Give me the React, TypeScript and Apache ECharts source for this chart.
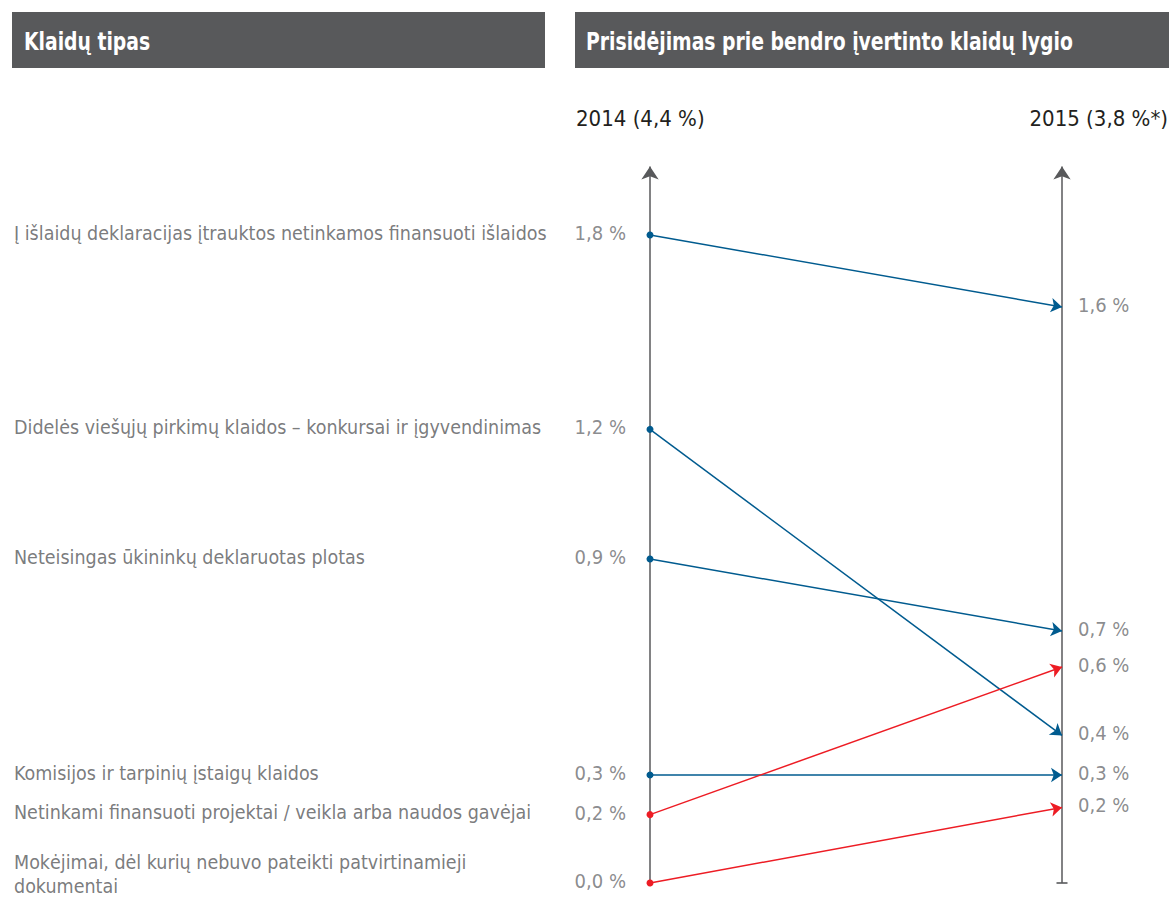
import React, { useEffect, useRef } from "react";
import * as echarts from "echarts";

const categories = [
  "Į išlaidų deklaracijas įtrauktos netinkamos finansuoti išlaidos",
  "Didelės viešųjų pirkimų klaidos – konkursai ir įgyvendinimas",
  "Neteisingas ūkininkų deklaruotas plotas",
  "Komisijos ir tarpinių įstaigų klaidos",
  "Netinkami finansuoti projektai / veikla arba naudos gavėjai",
  "Mokėjimai, dėl kurių nebuvo pateikti patvirtinamieji\ndokumentai",
];
const values2014 = [1.8, 1.26, 0.9, 0.3, 0.19, 0.0];
const values2015 = [1.6, 0.41, 0.7, 0.3, 0.6, 0.21];
const labels2014 = ["1,8 %", "1,2 %", "0,9 %", "0,3 %", "0,2 %", "0,0 %"];
const labels2015 = ["1,6 %", "0,4 %", "0,7 %", "0,3 %", "0,6 %", "0,2 %"];
const headerLeft = "Klaidų tipas";
const headerRight = "Prisidėjimas prie bendro įvertinto klaidų lygio";
const year2014 = "2014 (4,4 %)";
const year2015 = "2015 (3,8 %*)";

const BLUE = "#005b8f";
const RED = "#ed1c24";
const GRAY = "#58595b";
const FONT = "'DejaVu Sans Condensed', 'Liberation Sans Narrow', 'Noto Sans', sans-serif";

export default function App() {
  const ref = useRef<HTMLDivElement>(null);
  useEffect(() => {
    document.body.style.margin = "0";
    const chart = echarts.init(ref.current!, null, { renderer: "svg" });
    const linesData = values2014.map((v, i) => ({
      coords: [
        [0, v],
        [1, values2015[i]],
      ],
      lineStyle: { color: values2015[i] > v ? RED : BLUE },
    }));
    chart.setOption({
      animation: false,
      textStyle: { fontFamily: FONT },
      grid: { left: 650, right: 107, top: 163, bottom: 17 },
      xAxis: { type: "value", min: 0, max: 1, show: false },
      yAxis: { type: "value", min: 0, max: 2, show: false },
      graphic: [
        { type: "rect", shape: { x: 12, y: 12, width: 533, height: 56 }, style: { fill: GRAY } },
        { type: "rect", shape: { x: 575, y: 12, width: 594, height: 56 }, style: { fill: GRAY } },
        {
          type: "text", x: 24, y: 41, scaleX: 0.87,
          style: { text: headerLeft, fill: "#fff", font: `bold 24px ${FONT}`, verticalAlign: "middle" },
        },
        {
          type: "text", x: 586, y: 41, scaleX: 0.87,
          style: { text: headerRight, fill: "#fff", font: `bold 24px ${FONT}`, verticalAlign: "middle" },
        },
        {
          type: "text", x: 576, y: 118,
          style: { text: year2014, fill: "#231f20", font: `22px ${FONT}`, verticalAlign: "middle" },
        },
        {
          type: "text", x: 1168, y: 118,
          style: { text: year2015, fill: "#231f20", font: `22px ${FONT}`, verticalAlign: "middle", align: "right" },
        },
      ],
      series: [
        {
          type: "lines",
          coordinateSystem: "cartesian2d",
          clip: false,
          symbol: ["none", "arrow"],
          symbolSize: 13,
          lineStyle: { color: GRAY, width: 1.5, opacity: 1 },
          data: [
            { coords: [[0, 0], [0, 1.99]] },
            { coords: [[1, 0], [1, 1.99]] },
          ],
          z: 1,
        },
        {
          type: "scatter",
          clip: false,
          symbol: "rect",
          symbolSize: [11, 2],
          itemStyle: { color: GRAY },
          data: [[1, 0]],
          z: 1,
        },
        {
          type: "lines",
          coordinateSystem: "cartesian2d",
          clip: false,
          symbol: ["circle", "arrow"],
          symbolSize: [7, 11],
          lineStyle: { width: 1.5, opacity: 1 },
          data: linesData,
          z: 3,
        },
        {
          type: "scatter",
          clip: false,
          symbolSize: 0,
          data: values2014.map((v, i) => ({
            value: [0, v],
            label: {
              show: true,
              formatter: labels2014[i],
              position: "left",
              distance: 24,
              color: "#6d6e71",
              fontSize: 20,
              fontFamily: FONT,
              offset: [0, -2],
            },
          })),
          z: 4,
        },
        {
          type: "scatter",
          clip: false,
          symbolSize: 0,
          data: values2015.map((v, i) => ({
            value: [1, v],
            label: {
              show: true,
              formatter: labels2015[i],
              position: "right",
              distance: 16,
              color: "#6d6e71",
              fontSize: 20,
              fontFamily: FONT,
              offset: [0, -2],
            },
          })),
          z: 4,
        },
        {
          type: "scatter",
          clip: false,
          symbolSize: 0,
          data: values2014.map((v, i) => ({
            value: [0, v],
            label: {
              show: true,
              formatter: categories[i],
              position: [-636, 0],
              align: "left",
              verticalAlign: "middle",
              color: GRAY,
              fontSize: 19.5,
              lineHeight: 24,
              fontFamily: FONT,
              offset: [0, categories[i].includes("\n") ? -9 : -2],
            },
          })),
          z: 4,
        },
      ],
    });
    return () => chart.dispose();
  }, []);
  return <div ref={ref} style={{ width: 1169, height: 900 }} />;
}
